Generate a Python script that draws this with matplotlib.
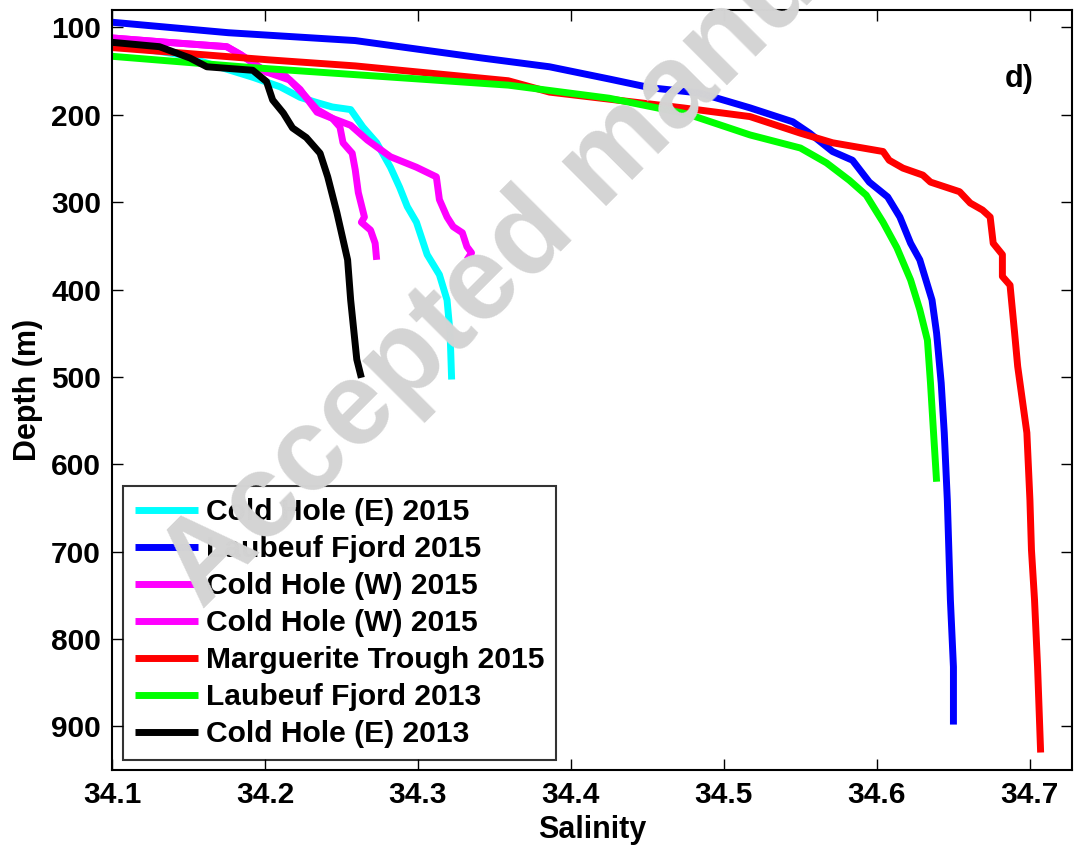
import numpy as np
import matplotlib
matplotlib.use('Agg')
import matplotlib.pyplot as plt

plt.rcParams['font.family'] = ['Liberation Sans', 'DejaVu Sans']

# salinity / depth profiles
ch_e15_sal = [34.100, 34.144, 34.192, 34.210, 34.223, 34.234, 34.244, 34.256, 34.264, 34.273,
              34.282, 34.288, 34.293, 34.299, 34.306, 34.314, 34.319, 34.321, 34.322]
ch_e15_dep = [119, 131, 157, 168, 180, 186, 191, 194, 214, 232,
              260, 283, 305, 323, 360, 383, 412, 450, 503]

lf15_sal = [34.100, 34.176, 34.259, 34.342, 34.386, 34.425, 34.452, 34.484, 34.517, 34.545,
            34.556, 34.571, 34.584, 34.595, 34.607, 34.615, 34.622, 34.628, 34.636, 34.639,
            34.642, 34.644, 34.646, 34.648, 34.650, 34.650]
lf15_dep = [94, 106, 115, 135, 145, 159, 169, 175, 192, 208,
            221, 242, 252, 277, 294, 317, 347, 366, 412, 450,
            507, 564, 641, 755, 832, 898]

ch_w15a_sal = [34.100, 34.136, 34.175, 34.184, 34.201, 34.216, 34.227, 34.234, 34.244, 34.249,
               34.251, 34.257, 34.259, 34.261, 34.265, 34.263, 34.269, 34.272, 34.273]
ch_w15a_dep = [112, 117, 122, 131, 151, 160, 180, 194, 204, 214,
               232, 244, 263, 289, 317, 323, 332, 347, 366]

ch_w15b_sal = [34.100, 34.136, 34.175, 34.184, 34.201, 34.213, 34.223, 34.234, 34.244, 34.256,
               34.267, 34.282, 34.299, 34.312, 34.314, 34.319, 34.323, 34.329, 34.332, 34.335,
               34.332]
ch_w15b_dep = [112, 117, 122, 131, 151, 155, 171, 197, 204, 212,
               229, 248, 260, 271, 297, 317, 328, 335, 351, 358,
               366]

mt15_sal = [34.100, 34.202, 34.259, 34.359, 34.386, 34.473, 34.517, 34.550, 34.571, 34.604,
            34.608, 34.617, 34.630, 34.635, 34.654, 34.661, 34.669, 34.674, 34.676, 34.682,
            34.682, 34.687, 34.690, 34.692, 34.695, 34.698, 34.700, 34.701, 34.703, 34.705,
            34.707]
mt15_dep = [123, 137, 144, 161, 174, 192, 202, 221, 232, 242,
            252, 261, 269, 277, 288, 301, 309, 317, 347, 360,
            385, 395, 450, 488, 526, 564, 641, 698, 755, 832,
            930]

lf13_sal = [34.100, 34.192, 34.259, 34.359, 34.425, 34.476, 34.517, 34.550, 34.567, 34.582,
            34.593, 34.604, 34.613, 34.622, 34.628, 34.633, 34.635, 34.637, 34.639]
lf13_dep = [133, 146, 154, 166, 181, 199, 223, 238, 255, 275,
            292, 323, 352, 389, 423, 458, 507, 564, 620]

ch_e13_sal = [34.100, 34.131, 34.151, 34.162, 34.192, 34.201, 34.205, 34.212, 34.218, 34.227,
              34.236, 34.241, 34.247, 34.254, 34.256, 34.260, 34.263]
ch_e13_dep = [117, 122, 135, 145, 149, 162, 183, 198, 215, 226,
              244, 271, 312, 366, 412, 480, 501]

labels = ['Cold Hole (E) 2015', 'Laubeuf Fjord 2015', 'Cold Hole (W) 2015', 'Cold Hole (W) 2015',
          'Marguerite Trough 2015', 'Laubeuf Fjord 2013', 'Cold Hole (E) 2013']
colors = ['#00ffff', '#0000ff', '#ff00ff', '#ff00ff', '#ff0000', '#00ff00', '#000000']
series = [(ch_e15_sal, ch_e15_dep), (lf15_sal, lf15_dep), (ch_w15a_sal, ch_w15a_dep),
          (ch_w15b_sal, ch_w15b_dep), (mt15_sal, mt15_dep), (lf13_sal, lf13_dep),
          (ch_e13_sal, ch_e13_dep)]

fig = plt.figure(figsize=(10.74, 8.51), dpi=100)
ax = fig.add_axes([112/1074, 1 - 770/851, 960/1074, 760/851])

# watermark sits behind a transparent axes
fig.text(0.188, 0.283, 'Accepted manuscript', fontsize=85, fontweight='bold', color='#d4d4d4',
         rotation=45, rotation_mode='anchor', ha='left', va='baseline', zorder=0)
ax.patch.set_alpha(0)

for (s, d), lab, c in zip(series, labels, colors):
    ax.plot(s, d, color=c, lw=5, label=lab, solid_capstyle='butt')

ax.set_xlim(34.1, 34.7275)
ax.set_ylim(950, 80)
ax.set_xticks([34.1, 34.2, 34.3, 34.4, 34.5, 34.6, 34.7])
ax.set_xticklabels(['34.1', '34.2', '34.3', '34.4', '34.5', '34.6', '34.7'])
ax.set_yticks(np.arange(100, 1000, 100))
ax.tick_params(direction='in', length=8, width=1, top=True, right=True,
               labelsize=21.5, pad=8)
for lab in ax.get_xticklabels() + ax.get_yticklabels():
    lab.set_fontweight('bold')
for sp in ax.spines.values():
    sp.set_linewidth(1.5)

ax.set_xlabel('Salinity', fontsize=22, fontweight='bold', labelpad=4)
ax.set_ylabel('Depth (m)', fontsize=22, fontweight='bold', labelpad=6)
ax.text(0.930, 0.899, 'd)', transform=ax.transAxes, fontsize=22, fontweight='bold')

leg = ax.legend(loc='lower left', bbox_to_anchor=(0.0115, 0.013), borderaxespad=0,
                fancybox=False, facecolor='none', edgecolor='black',
                prop={'size': 21.6, 'weight': 'bold'},
                handlelength=2.1, handletextpad=0.25, labelspacing=0.3, borderpad=0.4)
leg.get_frame().set_linewidth(1.5)

fig.savefig('out.png', dpi=100)
